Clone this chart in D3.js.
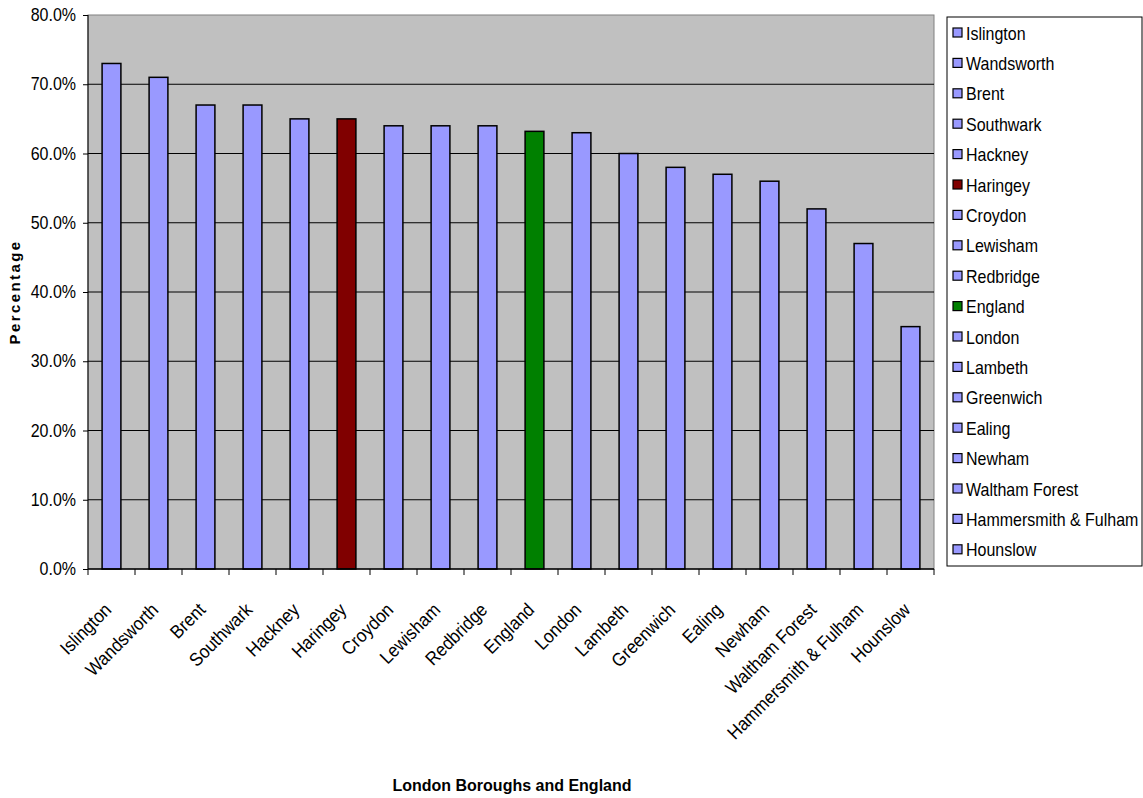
<!DOCTYPE html>
<html>
<head>
<meta charset="utf-8">
<script src="https://cdn.jsdelivr.net/npm/d3@7"></script>
<style>
  body { margin: 0; background: #fff; }
  svg { font-family: "Liberation Sans", Arial, sans-serif; }
</style>
</head>
<body>
<svg id="chart" width="1143" height="798"></svg>
<script>
/// data ///
const areas = ["Islington", "Wandsworth", "Brent", "Southwark", "Hackney", "Haringey",
  "Croydon", "Lewisham", "Redbridge", "England", "London", "Lambeth", "Greenwich",
  "Ealing", "Newham", "Waltham Forest", "Hammersmith & Fulham", "Hounslow"];
const values = [73, 71, 67, 67, 65, 65, 64, 64, 64, 63.2, 63, 60, 58, 57, 56, 52, 47, 35];
const yTicks = [0, 10, 20, 30, 40, 50, 60, 70, 80];
const highlight = { "Haringey": "#800000", "England": "#008000" };

/// dimensions ///
const width = 1143, height = 798;
const margin = { top: 15, right: 209, bottom: 229, left: 88 };

const svg = d3.select("#chart");

// scales
const x = d3.scaleBand()
  .domain(areas)
  .range([margin.left, width - margin.right])
  .paddingInner(0.6)
  .paddingOuter(0.3);
const y = d3.scaleLinear()
  .domain([0, 80])
  .range([height - margin.bottom, margin.top]);
const step = x.step();
const x0 = margin.left, x1 = width - margin.right;
const colour = d => highlight[d] || "#9999FF";

// plot area
svg.append("rect")
  .attr("x", x0).attr("y", y(80))
  .attr("width", x1 - x0).attr("height", y(0) - y(80))
  .attr("fill", "#C0C0C0")
  .attr("stroke", "#808080");

// gridlines
svg.append("g")
  .selectAll("line")
  .data(yTicks.filter(t => t > 0 && t < 80))
  .join("line")
    .attr("x1", x0).attr("x2", x1)
    .attr("y1", d => y(d)).attr("y2", d => y(d))
    .attr("stroke", "#000").attr("stroke-width", 1);

// bars
svg.append("g")
  .selectAll("rect")
  .data(areas)
  .join("rect")
    .attr("x", d => x(d))
    .attr("y", (d, i) => y(values[i]))
    .attr("width", x.bandwidth())
    .attr("height", (d, i) => y(0) - y(values[i]))
    .attr("fill", colour)
    .attr("stroke", "#000")
    .attr("stroke-width", 1.5);

// y axis
const yAxis = svg.append("g")
  .attr("transform", `translate(${x0},0)`)
  .call(d3.axisLeft(y).tickValues(yTicks).tickSize(5).tickPadding(7)
    .tickFormat(d => d.toFixed(1) + "%"));
yAxis.select(".domain").attr("stroke", "#000").attr("d", `M0,${y(80)}V${y(0)}`);
yAxis.selectAll(".tick text")
  .attr("font-size", 16).attr("fill", "#000")
  .attr("font-family", "Liberation Sans, Arial, sans-serif")
  .attr("transform", "scale(1,1.15)")
  .attr("y", 0).attr("dy", "0.3em");
// keep the stretched labels centred on their ticks
yAxis.selectAll(".tick text").attr("transform", null)
  .attr("style", "transform: scale(1,1.15); transform-origin: 0 0;");

// x axis: ticks between categories
const xAxis = svg.append("g");
xAxis.append("line")
  .attr("x1", x0).attr("x2", x1)
  .attr("y1", y(0)).attr("y2", y(0))
  .attr("stroke", "#000").attr("stroke-width", 1.5);
xAxis.selectAll(".sep")
  .data(d3.range(areas.length + 1))
  .join("line")
    .attr("class", "sep")
    .attr("x1", i => x0 + i * step).attr("x2", i => x0 + i * step)
    .attr("y1", y(0)).attr("y2", y(0) + 6)
    .attr("stroke", "#000");
xAxis.selectAll("text")
  .data(areas)
  .join("text")
    .attr("transform", d => `translate(${x(d) + x.bandwidth() / 2 + 1},${y(0) + 42}) rotate(-45) scale(1,1.1)`)
    .attr("text-anchor", "end")
    .attr("font-size", 17)
    .text(d => d);

// axis titles
svg.append("text")
  .attr("transform", `translate(20,${(y(0) + y(80)) / 2}) rotate(-90)`)
  .attr("text-anchor", "middle")
  .attr("font-size", 15)
  .attr("font-weight", "bold")
  .attr("letter-spacing", 2.4)
  .text("Percentage");
svg.append("text")
  .attr("x", 512).attr("y", 791)
  .attr("text-anchor", "middle")
  .attr("font-size", 16)
  .attr("font-weight", "bold")
  .text("London Boroughs and England");

// legend
const lx = 947, ly = 17, rowH = 30.4;
svg.append("rect")
  .attr("x", lx).attr("y", ly)
  .attr("width", 195).attr("height", 549)
  .attr("fill", "#fff").attr("stroke", "#000");
const items = svg.append("g")
  .selectAll("g")
  .data(areas)
  .join("g")
    .attr("transform", (d, i) => `translate(${lx + 6},${ly + 11 + i * rowH})`);
items.append("rect")
  .attr("width", 9).attr("height", 9)
  .attr("fill", colour).attr("stroke", "#000").attr("stroke-width", 1.2);
items.append("text")
  .attr("transform", "translate(13,11.5) scale(1,1.15)")
  .attr("font-size", 16)
  .text(d => d);
</script>
</body>
</html>
